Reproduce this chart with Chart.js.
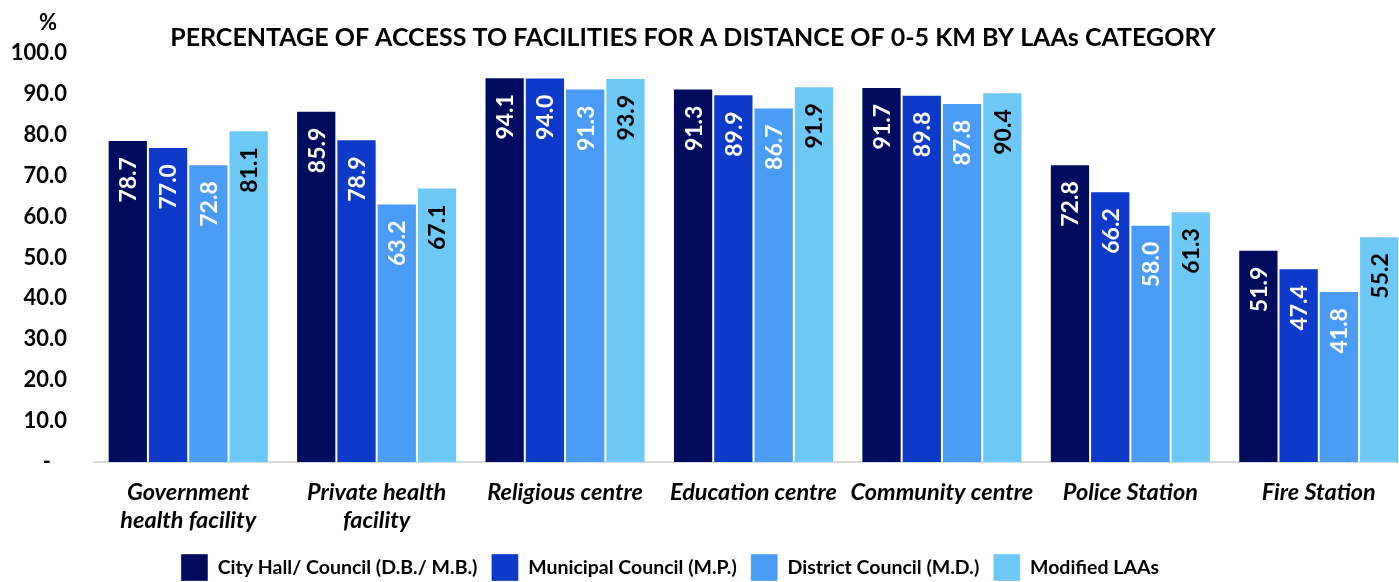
<!DOCTYPE html>
<html>
<head>
<meta charset="utf-8">
<title>Access to facilities 0-5 km by LAAs category</title>
<script src="https://cdn.jsdelivr.net/npm/chart.js@4.4.1/dist/chart.umd.min.js"></script>
<style>
  html, body { margin: 0; overflow: hidden; background: #fff; }
  /* canvas is a bit wider than the window so the last group sits flush right */
  #wrap { position: absolute; left: -27px; top: 0; }
</style>
</head>
<body>
<div id="wrap"><canvas id="chart" width="1440" height="591"></canvas></div>
<script>
const categories = [
  ["Government", "health facility"],
  ["Private health", "facility"],
  "Religious centre",
  "Education centre",
  "Community centre",
  "Police Station",
  "Fire Station",
];
const seriesNames = [
  "City Hall/ Council (D.B./ M.B.)",
  "Municipal Council (M.P.)",
  "District Council (M.D.)",
  "Modified LAAs",
];
const cityHall = [78.7, 85.9, 94.1, 91.3, 91.7, 72.8, 51.9];
const municipal = [77.0, 78.9, 94.0, 89.9, 89.8, 66.2, 47.4];
const district = [72.8, 63.2, 91.3, 86.7, 87.8, 58.0, 41.8];
const modified = [81.1, 67.1, 93.9, 91.9, 90.4, 61.3, 55.2];
const yMin = 0;
const yMax = 100;
const yStep = 10;

const barColors = ["#020c5e", "#0d3ac9", "#4a9cf6", "#6ec8f6"];
const labelColors = ["#fff", "#fff", "#fff", "#000"];

Chart.defaults.font.family = "Lato, 'Noto Sans', sans-serif";
Chart.defaults.color = "#000";

// values written upright inside the top of each bar
const barValues = {
  id: "barValues",
  afterDatasetsDraw(chart) {
    const { ctx } = chart;
    ctx.save();
    ctx.font = "bold 23px Lato";
    ctx.textAlign = "right";
    ctx.textBaseline = "middle";
    chart.data.datasets.forEach((ds, i) => {
      ctx.fillStyle = labelColors[i];
      chart.getDatasetMeta(i).data.forEach((bar, j) => {
        ctx.save();
        ctx.translate(bar.x + 1, bar.y + 17);
        ctx.rotate(-Math.PI / 2);
        ctx.fillText(ds.data[j].toFixed(1), 0, 0);
        ctx.restore();
      });
    });
    ctx.restore();
  },
};

// the "%" unit above the y axis
const unitLabel = {
  id: "unitLabel",
  afterDraw(chart) {
    const { ctx } = chart;
    ctx.save();
    ctx.font = "bold 22px Lato";
    ctx.fillStyle = "#000";
    ctx.textAlign = "center";
    ctx.textBaseline = "middle";
    ctx.fillText("%", 75, 23);
    ctx.restore();
  },
};

// legend in the original sits a little left of the title centre
const legendShift = {
  id: "legendShift",
  afterLayout(chart) {
    chart.legend.left -= 23;
    chart.legend.right -= 23;
  },
};

const names = [cityHall, municipal, district, modified];

new Chart(document.getElementById("chart"), {
  type: "bar",
  data: {
    labels: categories,
    datasets: names.map((values, i) => ({
      label: seriesNames[i],
      data: values,
      backgroundColor: barColors[i],
      borderColor: "rgba(255,255,255,0.35)",
      borderWidth: 1,
      categoryPercentage: 0.855,
      barPercentage: 1.0,
    })),
  },
  options: {
    responsive: false,
    animation: false,
    events: [],
    layout: { padding: 0 },
    plugins: {
      title: {
        display: true,
        text: "PERCENTAGE OF ACCESS TO FACILITIES FOR A DISTANCE OF 0-5 KM BY LAAs CATEGORY",
        color: "#000",
        font: { size: 25, weight: "bold" },
        padding: { top: 23, bottom: 0 },
      },
      legend: {
        position: "bottom",
        labels: {
          boxWidth: 27,
          boxHeight: 27,
          padding: 14,
          color: "#000",
          font: { size: 19.5, weight: "bold" },
        },
      },
      tooltip: { enabled: false },
    },
    scales: {
      x: {
        grid: { display: false, drawTicks: false },
        border: { display: true, color: "#d9d9d9", width: 2 },
        ticks: {
          padding: 16,
          maxRotation: 0,
          autoSkip: false,
          color: "#000",
          font: { size: 23.5, style: "italic", weight: "bold", lineHeight: 1.2 },
        },
        afterFit(scale) {
          scale.height = 78;
        },
      },
      y: {
        min: yMin,
        max: yMax,
        grid: { display: false, drawTicks: false },
        border: { display: false },
        ticks: {
          stepSize: yStep,
          padding: 27,
          color: "#000",
          font: { size: 22, weight: "bold" },
          callback: (value) => (value === 0 ? "-   " : value.toFixed(1)),
        },
        afterFit(scale) {
          scale.width = 121;
        },
      },
    },
  },
  plugins: [barValues, unitLabel, legendShift],
});
</script>
</body>
</html>
